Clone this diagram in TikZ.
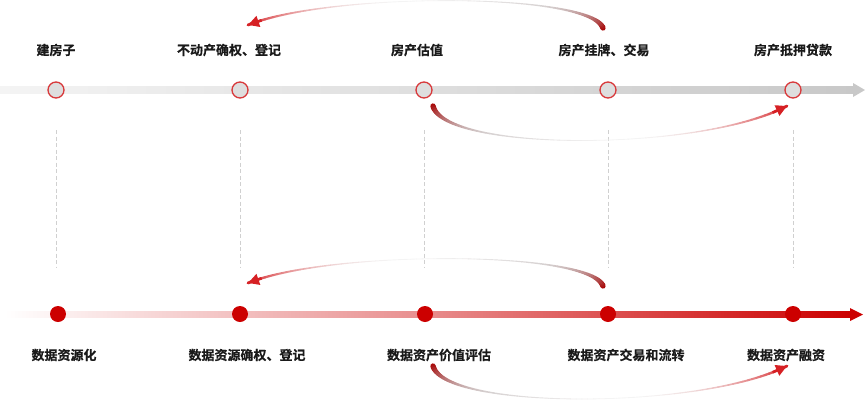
\documentclass[tikz,border=0pt]{standalone}
\usepackage{fontspec}
\newfontfamily\cjk{Noto Sans CJK SC}[UprightFont=* Bold, BoldFont=* Bold, BoldFeatures={FakeBold=0.5}]
\usepackage{tikz}
\usetikzlibrary{arrows.meta, positioning, calc}
\usepackage{xcolor}
\definecolor{AxisGrayL}{HTML}{F4F4F4}
\definecolor{AxisGrayR}{HTML}{C8C8C8}
\definecolor{DotRed}{HTML}{CC0000}
\definecolor{RingRed}{HTML}{D8393B}
\definecolor{RingFill}{HTML}{DEDEDE}
\definecolor{GuideGray}{HTML}{D0D0D0}
\definecolor{ArcDark}{HTML}{A80000}
\definecolor{ArcGray}{HTML}{B8AEAE}
\definecolor{ArcRed}{HTML}{D62024}
\definecolor{ArcMid}{HTML}{F4F4F4}
\definecolor{LabelBlack}{HTML}{1A1A1A}
\tikzset{
    housedot/.style={
        circle,
        draw=RingRed,
        line width=1.3pt,
        fill=RingFill,
        minimum size=16pt,
        inner sep=0pt
    },
    datadot/.style={
        circle,
        fill=DotRed,
        minimum size=16pt,
        inner sep=0pt
    },
    steplabel/.style={
        text=LabelBlack,
        font=\cjk\bfseries\fontsize{13}{15}\selectfont,
        inner sep=1pt
    },
    guide/.style={
        GuideGray,
        line width=0.9pt,
        dash pattern=on 4pt off 2.5pt,
        shorten <=40pt,
        shorten >=46pt
    },
    declare function={
        bez(\bzt,\bza,\bzb,\bzc,\bzd)=(1-\bzt)*(1-\bzt)*(1-\bzt)*\bza+3*(1-\bzt)*(1-\bzt)*\bzt*\bzb+3*(1-\bzt)*\bzt*\bzt*\bzc+\bzt*\bzt*\bzt*\bzd;
    }
}
% fading curved arrow: thick dark start, pale middle, red arrow end
\newcommand{\flowarc}[8]{%
    \foreach \i in {0,...,79}{%
        \pgfmathsetmacro{\ta}{\i/80}%
        \pgfmathsetmacro{\tb}{(\i+1)/80}%
        \pgfmathsetmacro{\tm}{(\i+0.5)/80}%
        \pgfmathsetmacro{\fu}{max(0,1-\tm/0.3)}%
        \pgfmathsetmacro{\fv}{max(0,(\tm-0.6)/0.4)}%
        \pgfmathtruncatemacro{\pa}{100*\fu*\fu}%
        \pgfmathtruncatemacro{\pg}{100*max(0,1-\tm/0.55)}%
        \pgfmathtruncatemacro{\pb}{100*\fv*\fv}%
        \pgfmathsetmacro{\lw}{0.5+5*(1-\tm)^5+2.4*\tm^4}%
        \colorlet{segc}{ArcRed!\pb!ArcMid}%
        \colorlet{segc}{ArcGray!\pg!segc}%
        \colorlet{segc}{ArcDark!\pa!segc}%
        \draw[segc, line width=\lw pt, line cap=round]
            ({bez(\ta,#1,#3,#5,#7)},{bez(\ta,#2,#4,#6,#8)}) --
            ({bez(\tb,#1,#3,#5,#7)},{bez(\tb,#2,#4,#6,#8)});
    }%
    \draw[ArcRed, line width=2.6pt, -{Triangle[length=11pt,width=11pt]}]
        ({bez(0.95,#1,#3,#5,#7)},{bez(0.95,#2,#4,#6,#8)}) -- (#7,#8);
}

\begin{document}
\begin{tikzpicture}[x=1pt, y=-1pt]
    \useasboundingbox (0,0) rectangle (865,402);

    % axes
    \shade[left color=AxisGrayL, right color=AxisGrayR] (0,86.5) rectangle (855,93.5);
    \fill[AxisGrayR] (853,83) -- (865,90) -- (853,97) -- cycle;
    \shade[left color=white, right color=DotRed, middle color=DotRed!45] (5,311.5) rectangle (852,317.5);
    \fill[DotRed] (850,308) -- (863,314.5) -- (850,321) -- cycle;

    % house steps
    \node[housedot] (h1) at (56,90) {};
    \node[housedot] (h2) at (240,90) {};
    \node[housedot] (h3) at (424,90) {};
    \node[housedot] (h4) at (608,90) {};
    \node[housedot] (h5) at (793,90) {};

    % data steps
    \node[datadot] (d1) at (58,314) {};
    \node[datadot] (d2) at (240,314) {};
    \node[datadot] (d3) at (425,314) {};
    \node[datadot] (d4) at (608,314) {};
    \node[datadot] (d5) at (793,314) {};

    \node[steplabel] (lh1) at (56,50) {建房子};
    \node[steplabel] (lh2) at (229,50) {不动产确权、登记};
    \node[steplabel] (lh3) at (417,50) {房产估值};
    \node[steplabel] (lh4) at (604,50) {房产挂牌、交易};
    \node[steplabel] (lh5) at (793,50) {房产抵押贷款};

    \node[steplabel] (ld1) at (64,355) {数据资源化};
    \node[steplabel] (ld2) at (247,355) {数据资源确权、登记};
    \node[steplabel] (ld3) at (439,355) {数据资产价值评估};
    \node[steplabel] (ld4) at (626,355) {数据资产交易和流转};
    \node[steplabel] (ld5) at (786,355) {数据资产融资};

    % guides
    \draw[guide] (h1.center) -- (h1.center |- d1.center);
    \draw[guide] (h2.center) -- (d2.center);
    \draw[guide] (h3.center) -- (h3.center |- d3.center);
    \draw[guide] (h4.center) -- (d4.center);
    \draw[guide] (h5.center) -- (d5.center);

    % curved arrows
    \flowarc{603}{28}{590}{-8}{330}{-8}{248}{25}
    \flowarc{433}{106}{445}{152}{700}{152}{787}{106}
    \flowarc{603}{286}{590}{250}{330}{250}{248}{283}
    \flowarc{433}{366}{445}{410}{700}{410}{787}{366}
\end{tikzpicture}
\end{document}
